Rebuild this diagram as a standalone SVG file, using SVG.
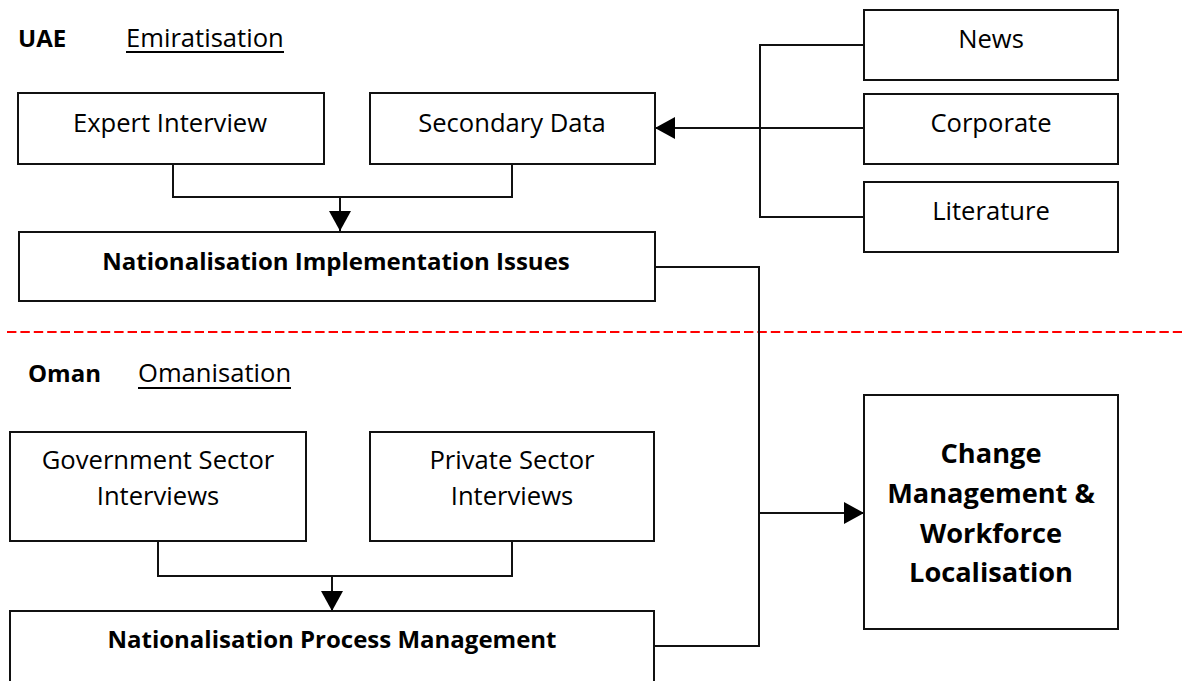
<svg xmlns="http://www.w3.org/2000/svg" width="1182" height="681" viewBox="0 0 1182 681">
  <style>
    .box { fill: #ffffff; stroke: #111111; stroke-width: 2; }
    .lbl { font-family: "Open Sans", Lato, "Liberation Sans", sans-serif; font-size: 25.6px; fill: #000000; text-anchor: middle; }
    .head { font-family: "Open Sans", Lato, "Liberation Sans", sans-serif; font-size: 25.6px; fill: #000000; }
    .bold { font-weight: bold; font-size: 24px; }
    .big { font-size: 27.2px; }
    .wire { fill: none; stroke: #111111; stroke-width: 2; }
    .ul { stroke: #000000; stroke-width: 2; }
  </style>
  <defs>
    <marker id="arrow" viewBox="0 0 20 22" refX="20" refY="11" markerWidth="20" markerHeight="22" markerUnits="userSpaceOnUse" orient="auto">
      <path d="M0,0 L20,11 L0,22 Z" fill="#000000"/>
    </marker>
  </defs>

  <rect width="1182" height="681" fill="#ffffff"/>

  <!-- section headings -->
  <g id="heading-uae">
    <text class="head bold" x="18" y="47">UAE</text>
    <text class="head" x="126" y="47">Emiratisation</text>
    <line class="ul" x1="126" y1="52" x2="284" y2="52"/>
  </g>
  <g id="heading-oman">
    <text class="head bold" x="28" y="382">Oman</text>
    <text class="head" x="138" y="382">Omanisation</text>
    <line class="ul" x1="138" y1="388" x2="291" y2="388"/>
  </g>

  <!-- divider between the two countries -->
  <line x1="7" y1="332" x2="1182" y2="332" stroke="#ff0000" stroke-width="2" stroke-dasharray="9.4,4"/>

  <!-- connectors -->
  <g id="connectors">
    <path class="wire" d="M864,45 H760 V217 H864"/>
    <path class="wire" d="M864,128 H655" marker-end="url(#arrow)"/>
    <path class="wire" d="M173,164 V197 H512 V164"/>
    <path class="wire" d="M340,197 V231" marker-end="url(#arrow)"/>
    <path class="wire" d="M158,541 V576 H512 V541"/>
    <path class="wire" d="M332,576 V611" marker-end="url(#arrow)"/>
    <path class="wire" d="M655,267 H759 V646 H655"/>
    <path class="wire" d="M759,513 H864" marker-end="url(#arrow)"/>
  </g>

  <!-- UAE nodes -->
  <g id="expert-interview">
    <rect class="box" x="18" y="93" width="306" height="71"/>
    <text class="lbl" x="170" y="132">Expert Interview</text>
  </g>
  <g id="secondary-data">
    <rect class="box" x="370" y="93" width="285" height="71"/>
    <text class="lbl" x="512" y="132">Secondary Data</text>
  </g>
  <g id="news">
    <rect class="box" x="864" y="10" width="254" height="70"/>
    <text class="lbl" x="991" y="48">News</text>
  </g>
  <g id="corporate">
    <rect class="box" x="864" y="94" width="254" height="70"/>
    <text class="lbl" x="991" y="132">Corporate</text>
  </g>
  <g id="literature">
    <rect class="box" x="864" y="182" width="254" height="70"/>
    <text class="lbl" x="991" y="220">Literature</text>
  </g>
  <g id="implementation-issues">
    <rect class="box" x="19" y="232" width="636" height="69"/>
    <text class="lbl bold" x="336" y="270">Nationalisation Implementation Issues</text>
  </g>

  <!-- Oman nodes -->
  <g id="government-interviews">
    <rect class="box" x="10" y="432" width="296" height="109"/>
    <text class="lbl" x="158" y="469">Government Sector</text>
    <text class="lbl" x="158" y="505">Interviews</text>
  </g>
  <g id="private-interviews">
    <rect class="box" x="370" y="432" width="284" height="109"/>
    <text class="lbl" x="512" y="469">Private Sector</text>
    <text class="lbl" x="512" y="505">Interviews</text>
  </g>
  <g id="process-management">
    <rect class="box" x="10" y="611" width="644" height="80"/>
    <text class="lbl bold" x="332" y="648">Nationalisation Process Management</text>
  </g>

  <!-- outcome node -->
  <g id="change-management">
    <rect class="box" x="864" y="395" width="254" height="234"/>
    <text class="lbl bold big" x="991" y="463">Change</text>
    <text class="lbl bold big" x="991" y="503">Management &amp;</text>
    <text class="lbl bold big" x="991" y="543">Workforce</text>
    <text class="lbl bold big" x="991" y="582">Localisation</text>
  </g>
</svg>
